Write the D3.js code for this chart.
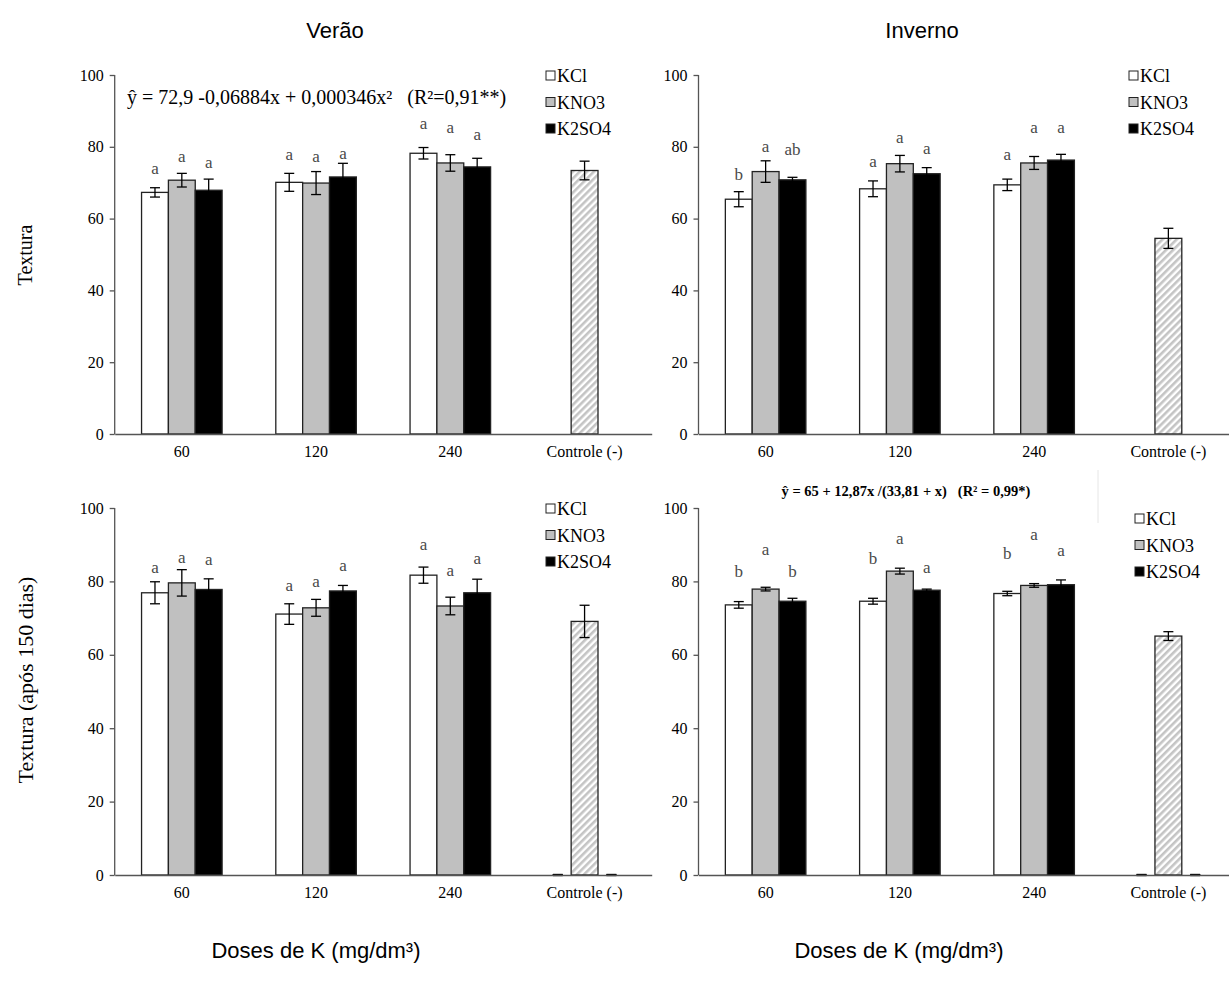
<!DOCTYPE html>
<html>
<head>
<meta charset="utf-8">
<script src="https://cdn.jsdelivr.net/npm/d3@7"></script>
<style>
  html, body { margin: 0; padding: 0; background: #fff; }
  svg { display: block; }
</style>
</head>
<body>
<svg id="chart" width="1229" height="983"></svg>
<script>
// Dose categories and K sources
const categories = ["60", "120", "240", "Controle (-)"];
const sources = ["KCl", "KNO3", "K2SO4"];
const yTicks = [0, 20, 40, 60, 80, 100];

// Verão – Textura
const verao_KCl = [67.3, 70.1, 78.2];
const verao_KCl_err = [1.3, 2.5, 1.6];
const verao_KNO3 = [70.7, 69.9, 75.5];
const verao_KNO3_err = [1.9, 3.2, 2.3];
const verao_K2SO4 = [67.9, 71.6, 74.4];
const verao_K2SO4_err = [3.1, 3.8, 2.4];
const verao_controle = 73.4;
const verao_controle_err = 2.6;
const verao_letters = [["a", "a", "a"], ["a", "a", "a"], ["a", "a", "a"]];
const verao_letterLevels = [[73.6, 77.5, 86.1], [77.0, 77.0, 84.9], [75.2, 77.7, 83.1]];

// Inverno – Textura
const inverno_KCl = [65.4, 68.3, 69.4];
const inverno_KCl_err = [2.1, 2.2, 1.6];
const inverno_KNO3 = [73.1, 75.3, 75.5];
const inverno_KNO3_err = [3.0, 2.3, 1.8];
const inverno_K2SO4 = [70.8, 72.5, 76.3];
const inverno_K2SO4_err = [0.7, 1.7, 1.6];
const inverno_controle = 54.5;
const inverno_controle_err = 2.8;
const inverno_letters = [["b", "a", "a"], ["a", "a", "a"], ["ab", "a", "a"]];
const inverno_letterLevels = [[71.9, 75.6, 77.3], [79.6, 82.3, 84.9], [78.7, 79.1, 84.9]];

// Verão – Textura após 150 dias
const verao150_KCl = [76.9, 71.1, 81.7];
const verao150_KCl_err = [3.0, 2.8, 2.2];
const verao150_KNO3 = [79.6, 72.8, 73.3];
const verao150_KNO3_err = [3.6, 2.3, 2.4];
const verao150_K2SO4 = [77.8, 77.4, 76.9];
const verao150_K2SO4_err = [2.9, 1.5, 3.7];
const verao150_controle = 69.1;
const verao150_controle_err = 4.4;
const verao150_letters = [["a", "a", "a"], ["a", "a", "a"], ["a", "a", "a"]];
const verao150_letterLevels = [[83.5, 78.5, 89.7], [86.0, 79.6, 82.6], [85.5, 83.8, 85.7]];

// Inverno – Textura após 150 dias
const inverno150_KCl = [73.6, 74.6, 76.7];
const inverno150_KCl_err = [0.9, 0.8, 0.6];
const inverno150_KNO3 = [77.9, 82.8, 78.9];
const inverno150_KNO3_err = [0.5, 0.8, 0.5];
const inverno150_K2SO4 = [74.6, 77.6, 79.1];
const inverno150_K2SO4_err = [0.8, 0.3, 1.3];
const inverno150_controle = 65.1;
const inverno150_controle_err = 1.2;
const inverno150_letters = [["b", "b", "b"], ["a", "a", "a"], ["b", "a", "a"]];
const inverno150_letterLevels = [[82.2, 85.7, 87.2], [88.2, 91.3, 92.5], [82.2, 83.5, 87.9]];

const SERIF = "'Liberation Serif', 'Times New Roman', Times, serif";
const SANS = "'Liberation Sans', Arial, Helvetica, sans-serif";
const fills = { KCl: "#ffffff", KNO3: "#c0c0c0", K2SO4: "#000000" };

const svg = d3.select("#chart");
const defs = svg.append("defs");
const pat = defs.append("pattern")
  .attr("id", "hatch")
  .attr("patternUnits", "userSpaceOnUse")
  .attr("width", 5).attr("height", 5)
  .attr("patternTransform", "rotate(45)");
pat.append("rect").attr("width", 5).attr("height", 5).attr("fill", "#ffffff");
pat.append("rect").attr("width", 2.6).attr("height", 5).attr("fill", "#c4c4c4");

function drawPanel(p) {
  const g = svg.append("g");
  const x = d3.scaleBand().domain(categories).range([p.left, p.left + 537]);
  const inner = d3.scaleBand().domain(sources)
    .range([x.bandwidth() * 0.2, x.bandwidth() * 0.8]);
  const y = d3.scaleLinear().domain([0, 100]).range([p.bottom, p.top]);

  // bars for the three doses
  const rows = [];
  sources.forEach((s, si) => {
    p.values[si].forEach((v, ci) => {
      rows.push({ s, si, cat: categories[ci], v, e: p.errs[si][ci],
                  letter: p.letters[si][ci], lv: p.letterLevels[si][ci] });
    });
  });

  g.selectAll("rect.bar").data(rows).join("rect")
    .attr("class", "bar")
    .attr("x", d => x(d.cat) + inner(d.s))
    .attr("y", d => y(d.v))
    .attr("width", inner.bandwidth())
    .attr("height", d => y(0) - y(d.v))
    .attr("fill", d => fills[d.s])
    .attr("stroke", "#222")
    .attr("stroke-width", 1.3);

  // control bar (hatched, centred in its band)
  const ctrlX = x(categories[3]) + inner("KNO3");
  g.append("rect")
    .attr("x", ctrlX).attr("y", y(p.controle))
    .attr("width", inner.bandwidth())
    .attr("height", y(0) - y(p.controle))
    .attr("fill", "url(#hatch)")
    .attr("stroke", "#222").attr("stroke-width", 1.3);

  // error bars
  const errRows = rows.map(d => ({ cx: x(d.cat) + inner(d.s) + inner.bandwidth() / 2, v: d.v, e: d.e }));
  errRows.push({ cx: ctrlX + inner.bandwidth() / 2, v: p.controle, e: p.controleErr });
  if (p.controleSides) {
    ["KCl", "K2SO4"].forEach((s, i) => {
      errRows.push({ cx: x(categories[3]) + inner(s) + inner.bandwidth() / 2, v: p.controleSides[i], e: 0, thick: true });
    });
  }
  const eg = g.append("g").attr("stroke", "#000").attr("stroke-width", 1.3).attr("fill", "none");
  errRows.forEach(d => {
    const w = 5;
    const sw = d.thick ? 2.2 : 1.3;
    eg.append("line").attr("x1", d.cx).attr("x2", d.cx)
      .attr("y1", y(d.v + d.e)).attr("y2", y(d.v - d.e));
    eg.append("line").attr("x1", d.cx - w).attr("x2", d.cx + w)
      .attr("y1", y(d.v + d.e)).attr("y2", y(d.v + d.e)).attr("stroke-width", sw);
    eg.append("line").attr("x1", d.cx - w).attr("x2", d.cx + w)
      .attr("y1", y(d.v - d.e)).attr("y2", y(d.v - d.e)).attr("stroke-width", sw);
  });

  // significance letters
  g.selectAll("text.letter").data(rows).join("text")
    .attr("class", "letter")
    .attr("x", d => x(d.cat) + inner(d.s) + inner.bandwidth() / 2)
    .attr("y", d => y(d.lv) + 4)
    .attr("text-anchor", "middle")
    .style("font-family", SERIF)
    .style("font-size", "17px")
    .attr("fill", "#4a4a4a")
    .text(d => d.letter);

  // axes
  const yAxis = g.append("g").attr("transform", `translate(${p.left},0)`)
    .call(d3.axisLeft(y).tickValues(yTicks).tickSize(5).tickPadding(6));
  yAxis.attr("font-family", null);
  yAxis.select(".domain").attr("stroke", "#555").attr("stroke-width", 1.3).attr("d", `M-0,${p.top}V${p.bottom}`);
  yAxis.selectAll(".tick line").attr("stroke", "#555").attr("stroke-width", 1.3);
  yAxis.selectAll(".tick text").style("font-family", SERIF).style("font-size", "16px").attr("fill", "#000");

  const xAxis = g.append("g").attr("transform", `translate(0,${p.bottom})`)
    .call(d3.axisBottom(x).tickSize(0).tickPadding(12));
  xAxis.attr("font-family", null);
  xAxis.select(".domain").attr("stroke", "#555").attr("stroke-width", 1.3);
  xAxis.selectAll(".tick text").style("font-family", SERIF).style("font-size", "16px").attr("fill", "#000");

  // legend
  const lg = g.append("g").attr("transform", `translate(${p.legendX},${p.legendY})`);
  sources.forEach((s, i) => {
    const row = lg.append("g").attr("transform", `translate(0,${i * 26.5})`);
    row.append("rect").attr("x", 0).attr("y", -5).attr("width", 9).attr("height", 9)
      .attr("fill", fills[s]).attr("stroke", "#222").attr("stroke-width", 1);
    row.append("text").attr("x", 11).attr("y", 6)
      .style("font-family", SERIF).style("font-size", "18px")
      .attr("fill", "#000").text(s);
  });
}

const xLeft = 114.7, xRight = 698.5;

drawPanel({ left: xLeft, top: 75, bottom: 434,
  values: [verao_KCl, verao_KNO3, verao_K2SO4],
  errs: [verao_KCl_err, verao_KNO3_err, verao_K2SO4_err],
  controle: verao_controle, controleErr: verao_controle_err,
  letters: verao_letters, letterLevels: verao_letterLevels,
  legendX: 546, legendY: 76 });

drawPanel({ left: xRight, top: 75, bottom: 434,
  values: [inverno_KCl, inverno_KNO3, inverno_K2SO4],
  errs: [inverno_KCl_err, inverno_KNO3_err, inverno_K2SO4_err],
  controle: inverno_controle, controleErr: inverno_controle_err,
  letters: inverno_letters, letterLevels: inverno_letterLevels,
  legendX: 1129, legendY: 76 });

drawPanel({ left: xLeft, top: 508, bottom: 875,
  values: [verao150_KCl, verao150_KNO3, verao150_K2SO4],
  errs: [verao150_KCl_err, verao150_KNO3_err, verao150_K2SO4_err],
  controle: verao150_controle, controleErr: verao150_controle_err,
  controleSides: [0, 0],
  letters: verao150_letters, letterLevels: verao150_letterLevels,
  legendX: 546, legendY: 509 });

drawPanel({ left: xRight, top: 508, bottom: 875,
  values: [inverno150_KCl, inverno150_KNO3, inverno150_K2SO4],
  errs: [inverno150_KCl_err, inverno150_KNO3_err, inverno150_K2SO4_err],
  controle: inverno150_controle, controleErr: inverno150_controle_err,
  controleSides: [0, 0],
  letters: inverno150_letters, letterLevels: inverno150_letterLevels,
  legendX: 1135, legendY: 519 });

// regression equations
svg.append("text")
  .attr("x", 127).attr("y", 104)
  .style("font-family", SERIF).style("font-size", "20px")
  .style("white-space", "pre")
  .text("ŷ = 72,9 -0,06884x + 0,000346x²   (R²=0,91**)");

svg.append("text")
  .attr("x", 906).attr("y", 496).attr("text-anchor", "middle")
  .style("font-family", SERIF).style("font-size", "14.5px").style("font-weight", "bold")
  .style("white-space", "pre")
  .text("ŷ = 65 + 12,87x /(33,81 + x)   (R² = 0,99*)");
svg.append("line").attr("x1", 1098).attr("x2", 1098).attr("y1", 470).attr("y2", 523)
  .attr("stroke", "#e6e6e6").attr("stroke-width", 1);

// titles
const sansText = (x, y, t) => svg.append("text").attr("x", x).attr("y", y)
  .attr("text-anchor", "middle").style("font-family", SANS).style("font-size", "22px").text(t);
sansText(335, 38, "Verão");
sansText(922, 38, "Inverno");
sansText(316, 958, "Doses de K (mg/dm³)");
sansText(899, 958, "Doses de K (mg/dm³)");

// y axis titles
svg.append("text")
  .attr("transform", "translate(32,255) rotate(-90)")
  .attr("text-anchor", "middle").style("font-family", SERIF).style("font-size", "20px").text("Textura");
svg.append("text")
  .attr("transform", "translate(33,680) rotate(-90)")
  .attr("text-anchor", "middle").style("font-family", SERIF).style("font-size", "22px").text("Textura (após 150 dias)");
</script>
</body>
</html>
